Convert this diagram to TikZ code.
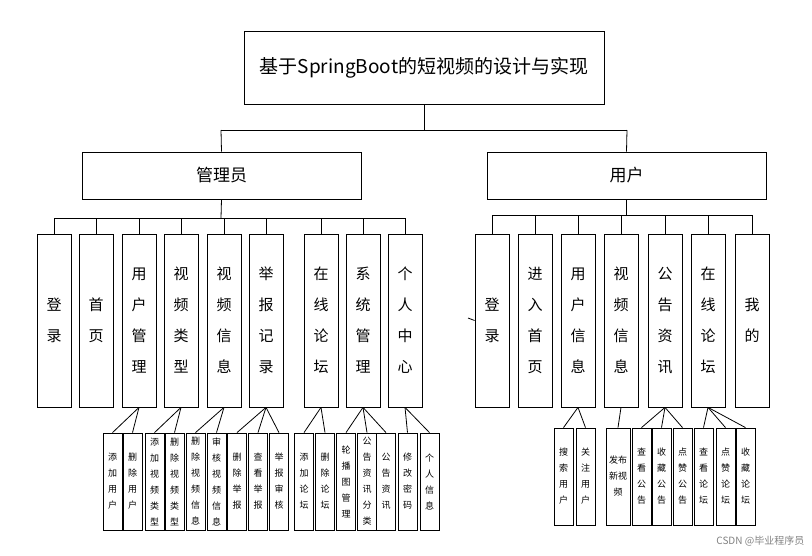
\documentclass[tikz,border=0pt]{standalone}
\usepackage{fontspec}
\setmainfont{Noto Sans CJK SC}
\begin{document}
\begin{tikzpicture}[x=1pt,y=-1pt,line width=0.8pt,
 bx/.style={draw,inner sep=0pt,align=center},
 mid/.style={bx,minimum width=34pt,minimum height=173pt,font=\fontsize{15}{31}\selectfont},
 lf/.style={bx,minimum width=19pt,minimum height=97pt,font=\fontsize{9}{16}\selectfont},
 ulf/.style={lf,minimum height=97pt}]
\useasboundingbox (0,0) rectangle (812,555);
\node[bx,minimum width=360pt,minimum height=73pt,font=\fontsize{19}{23}\selectfont] (t) at (424,67.5) {基于SpringBoot的短视频的设计与实现};
\node[bx,minimum width=279pt,minimum height=47pt,font=\fontsize{17}{20}\selectfont] (a) at (221.5,175.5) {管理员};
\node[bx,minimum width=279pt,minimum height=47pt,font=\fontsize{17}{20}\selectfont] (u) at (626.5,175.5) {用户};
\draw (t.south) -- (424,130) coordinate (tb);
\draw (221,130) -- (627,130);
\draw (221,130) -- (a.north); \draw (627,130) -- (u.north);
% admin children
\foreach \n/\x/\t in {a1/54/登\\录, a2/96/首\\页, a3/139/用\\户\\管\\理, a4/181/视\\频\\类\\型, a5/224/视\\频\\信\\息, a6/266/举\\报\\记\\录, a7/321/在\\线\\论\\坛, a8/363/系\\统\\管\\理, a9/405/个\\人\\中\\心}
 {\node[mid] (\n) at (\x,320.5) {\t}; \draw (\x,218) -- (\n.north);}
\draw (a.south) -- (221,218); \draw (54,218) -- (405,218);
% user children
\foreach \n/\x/\t in {u1/492/登\\录, u2/535/进\\入\\首\\页, u3/578/用\\户\\信\\息, u4/621/视\\频\\信\\息, u5/665/公\\告\\资\\讯, u6/708/在\\线\\论\\坛, u7/752/我\\的}
 {\node[mid] (\n) at (\x,320.5) {\t}; \draw (\x,215) -- (\n.north);}
\draw (u.south) -- (626.5,215); \draw (492,215) -- (752,215);
\coordinate (stub) at (468,318); \draw (stub) -- (u1.west);
% admin leaves
\foreach \n/\x/\p/\t in {l1/112.5/a3/添\\加\\用\\户, l2/132.5/a3/删\\除\\用\\户, l3/154.5/a4/添\\加\\视\\频\\类\\型, l4/174.5/a4/删\\除\\视\\频\\类\\型, l5/195.5/a5/删\\除\\视\\频\\信\\息, l6/216.5/a5/审\\核\\视\\频\\信\\息, l7/237/a6/删\\除\\举\\报, l8/258/a6/查\\看\\举\\报, l9/279/a6/举\\报\\审\\核, l10/304/a7/添\\加\\论\\坛, l11/325/a7/删\\除\\论\\坛, l12/346/a8/轮\\播\\图\\管\\理, l13/367/a8/公\\告\\资\\讯\\分\\类, l14/386/a8/公\\告\\资\\讯, l15/407.5/a9/修\\改\\密\\码, l16/429.5/a9/个\\人\\信\\息}
 {\node[lf] (\n) at (\x,481.5) {\t}; \draw (\p.south) -- (\n.north);}
% user leaves
\foreach \n/\x/\p/\t in {m1/563.5/u3/搜\\索\\用\\户, m2/585.5/u3/关\\注\\用\\户, m4/641.5/u5/查\\看\\公\\告, m5/661.5/u5/收\\藏\\公\\告, m6/682.5/u5/点\\赞\\公\\告, m7/703.5/u6/查\\看\\论\\坛, m8/725.5/u6/点\\赞\\论\\坛, m9/745.5/u6/收\\藏\\论\\坛}
 {\node[ulf] (\n) at (\x,476.5) {\t}; \draw (\p.south) -- (\n.north);}
\node[ulf,minimum width=24pt] (m3) at (618,476.5) {发布\\新视\\频}; \draw (u4.south) -- (m3.north);
\node[text=gray,font=\fontsize{10}{12}\selectfont,anchor=east] (wm) at (808,541) {CSDN @毕业程序员};
\end{tikzpicture}
\end{document}
